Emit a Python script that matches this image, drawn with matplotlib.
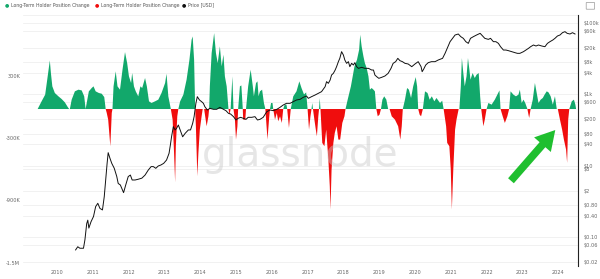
import numpy as np
import matplotlib
matplotlib.use("Agg")
import matplotlib.pyplot as plt
from matplotlib.transforms import blended_transform_factory, ScaledTranslation

# ---------------- data ----------------
lth_year = [
    2009.46, 2009.57, 2009.67, 2009.74, 2009.80, 2009.83, 2009.87, 2009.94, 2010.04, 2010.13,
    2010.22, 2010.30, 2010.34, 2010.36, 2010.41, 2010.50, 2010.60, 2010.69, 2010.76, 2010.80,
    2010.83, 2010.89, 2010.97, 2011.02, 2011.08, 2011.17, 2011.25, 2011.32, 2011.36, 2011.39,
    2011.43, 2011.49, 2011.53, 2011.55, 2011.58, 2011.64, 2011.69, 2011.76, 2011.83, 2011.90,
    2011.96, 2012.01, 2012.07, 2012.10, 2012.15, 2012.20, 2012.27, 2012.33, 2012.38, 2012.46,
    2012.51, 2012.57, 2012.64, 2012.74, 2012.83, 2012.92, 2013.02, 2013.06, 2013.11, 2013.18,
    2013.23, 2013.27, 2013.30, 2013.32, 2013.36, 2013.39, 2013.44, 2013.53, 2013.62, 2013.70,
    2013.76, 2013.79, 2013.83, 2013.86, 2013.88, 2013.92, 2013.95, 2013.99, 2014.04, 2014.07,
    2014.11, 2014.18, 2014.23, 2014.25, 2014.27, 2014.32, 2014.39, 2014.44, 2014.49, 2014.55,
    2014.60, 2014.65, 2014.69, 2014.74, 2014.79, 2014.82, 2014.85, 2014.90, 2014.93, 2014.97,
    2015.00, 2015.04, 2015.06, 2015.11, 2015.15, 2015.19, 2015.20, 2015.26, 2015.28, 2015.34,
    2015.41, 2015.47, 2015.50, 2015.56, 2015.60, 2015.63, 2015.67, 2015.73, 2015.78, 2015.82,
    2015.88, 2015.93, 2015.95, 2015.98, 2016.02, 2016.04, 2016.09, 2016.14, 2016.18, 2016.23,
    2016.28, 2016.32, 2016.36, 2016.41, 2016.43, 2016.48, 2016.53, 2016.60, 2016.69, 2016.77,
    2016.83, 2016.90, 2016.96, 2017.00, 2017.04, 2017.08, 2017.11, 2017.13, 2017.15, 2017.19,
    2017.23, 2017.26, 2017.30, 2017.32, 2017.34, 2017.36, 2017.41, 2017.47, 2017.52, 2017.58,
    2017.62, 2017.64, 2017.67, 2017.72, 2017.76, 2017.81, 2017.86, 2017.91, 2017.97, 2018.03,
    2018.06, 2018.12, 2018.21, 2018.31, 2018.38, 2018.44, 2018.47, 2018.51, 2018.56, 2018.60,
    2018.65, 2018.70, 2018.74, 2018.79, 2018.84, 2018.88, 2018.92, 2018.96, 2019.01, 2019.05,
    2019.09, 2019.14, 2019.20, 2019.25, 2019.29, 2019.35, 2019.44, 2019.53, 2019.59, 2019.63,
    2019.66, 2019.72, 2019.78, 2019.83, 2019.89, 2019.95, 2020.02, 2020.06, 2020.09, 2020.13,
    2020.17, 2020.22, 2020.28, 2020.35, 2020.41, 2020.47, 2020.54, 2020.60, 2020.70, 2020.76,
    2020.80, 2020.87, 2020.90, 2020.96, 2021.00, 2021.03, 2021.07, 2021.12, 2021.16, 2021.22,
    2021.24, 2021.28, 2021.31, 2021.35, 2021.39, 2021.44, 2021.48, 2021.52, 2021.55, 2021.61,
    2021.67, 2021.72, 2021.78, 2021.82, 2021.85, 2021.91, 2021.95, 2022.00, 2022.05, 2022.14,
    2022.23, 2022.30, 2022.36, 2022.39, 2022.45, 2022.51, 2022.58, 2022.63, 2022.67, 2022.75,
    2022.82, 2022.89, 2022.93, 2022.98, 2023.03, 2023.08, 2023.14, 2023.17, 2023.19, 2023.23,
    2023.29, 2023.35, 2023.40, 2023.45, 2023.51, 2023.57, 2023.62, 2023.68, 2023.73, 2023.79,
    2023.85, 2023.91, 2023.96, 2023.99, 2024.05, 2024.11, 2024.16, 2024.22, 2024.25, 2024.28,
    2024.31, 2024.38, 2024.44, 2024.48, 2024.50,
]
lth_change_k = [
    0, 74, 138, 314, 467, 346, 218, 154, 122, 96,
    64, 19, 0, 0, 90, 170, 186, 179, 122, 0,
    58, 170, 202, 218, 170, 154, 147, 115, 0, -38,
    -102, -358, -38, 0, 218, 362, 218, 186, 378, 547,
    442, 314, 250, 346, 218, 170, 122, 218, 202, 298,
    218, 74, 58, 74, 90, 154, 250, 339, 122, 0,
    -102, -422, -704, -358, -70, 0, 74, 138, 282, 474,
    666, 698, 474, 0, -166, -646, -422, -198, -70, 0,
    0, -166, -70, 0, 218, 538, 730, 538, 442, 602,
    410, 522, 314, 218, 0, -54, 0, 314, 0, -102,
    -294, -166, 0, 218, 227, 0, -102, -102, 0, 218,
    378, 218, 122, 250, 266, 122, 170, 186, 58, 0,
    -294, -70, 0, 58, 58, 0, -102, -38, -118, -70,
    -134, 0, 42, 42, 0, -182, 0, 122, 170, 266,
    202, 140, 160, 0, -198, -70, 0, 58, 0, -102,
    -198, -262, -70, 0, 106, 0, -326, -358, -198, -486,
    -742, -966, -582, -326, -230, -166, -294, -294, -134, -70,
    0, 90, 218, 410, 474, 570, 714, 602, 506, 442,
    394, 314, 186, 202, 186, 170, 0, -70, -54, 0,
    90, 122, 90, 0, 0, -70, -102, -166, -294, -166,
    0, 90, 202, 186, 106, 218, 307, 218, 0, -54,
    -70, 0, 170, 154, 90, 122, 74, 106, 58, 80,
    0, -166, -326, -358, -582, -966, -582, -198, -102, 0,
    0, 218, 490, 346, 218, 314, 490, 378, 282, 346,
    298, 330, 346, 122, 0, -166, -102, 0, 58, 42,
    90, 138, 179, 0, -70, -134, -70, 0, 170, 138,
    122, 138, 186, 58, 90, 58, 0, -54, -86, 0,
    90, 250, 154, 58, 90, 106, 138, 170, 160, 122,
    42, 122, 0, 0, -102, -198, -294, -390, -518, -102,
    0, 74, 90, 42, 0,
]

price_year = [
    2010.52, 2010.58, 2010.64, 2010.74, 2010.78, 2010.83, 2010.86, 2010.89, 2010.95, 2011.02,
    2011.08, 2011.14, 2011.20, 2011.27, 2011.32, 2011.36, 2011.40, 2011.43, 2011.48, 2011.53,
    2011.60, 2011.67, 2011.71, 2011.77, 2011.83, 2011.86, 2011.92, 2011.99, 2012.05, 2012.10,
    2012.18, 2012.27, 2012.37, 2012.46, 2012.55, 2012.63, 2012.69, 2012.76, 2012.83, 2012.90,
    2012.98, 2013.06, 2013.13, 2013.17, 2013.20, 2013.25, 2013.30, 2013.34, 2013.39, 2013.44,
    2013.51, 2013.58, 2013.67, 2013.73, 2013.79, 2013.83, 2013.88, 2013.92, 2013.98, 2014.04,
    2014.09, 2014.13, 2014.20, 2014.27, 2014.37, 2014.46, 2014.55, 2014.65, 2014.72, 2014.79,
    2014.85, 2014.93, 2015.00, 2015.06, 2015.13, 2015.20, 2015.28, 2015.34, 2015.44, 2015.53,
    2015.60, 2015.67, 2015.76, 2015.86, 2015.95, 2016.04, 2016.14, 2016.23, 2016.32, 2016.41,
    2016.51, 2016.60, 2016.69, 2016.79, 2016.88, 2016.97, 2017.02, 2017.11, 2017.21, 2017.30,
    2017.39, 2017.49, 2017.53, 2017.58, 2017.63, 2017.67, 2017.72, 2017.77, 2017.81, 2017.86,
    2017.90, 2017.95, 2018.00, 2018.04, 2018.09, 2018.14, 2018.18, 2018.23, 2018.28, 2018.32,
    2018.37, 2018.42, 2018.51, 2018.60, 2018.70, 2018.79, 2018.84, 2018.88, 2018.93, 2018.99,
    2019.07, 2019.16, 2019.25, 2019.33, 2019.39, 2019.46, 2019.52, 2019.58, 2019.65, 2019.72,
    2019.81, 2019.91, 2020.00, 2020.09, 2020.17, 2020.20, 2020.24, 2020.30, 2020.37, 2020.46,
    2020.56, 2020.65, 2020.77, 2020.84, 2020.90, 2020.98, 2021.05, 2021.12, 2021.21, 2021.28,
    2021.35, 2021.42, 2021.49, 2021.55, 2021.63, 2021.72, 2021.82, 2021.89, 2021.95, 2022.05,
    2022.11, 2022.19, 2022.26, 2022.33, 2022.39, 2022.47, 2022.54, 2022.61, 2022.70, 2022.79,
    2022.86, 2022.93, 2023.03, 2023.10, 2023.17, 2023.23, 2023.31, 2023.38, 2023.45, 2023.54,
    2023.63, 2023.70, 2023.77, 2023.85, 2023.91, 2023.98, 2024.05, 2024.12, 2024.19, 2024.25,
    2024.33, 2024.40, 2024.47,
]
price_usd = [
    0.044, 0.054, 0.049, 0.049, 0.084, 0.24, 0.30, 0.18, 0.27, 0.38,
    0.72, 0.89, 0.64, 0.58, 1.36, 4.0, 11.7, 23.3, 16.2, 11.7,
    8.5, 5.0, 3.2, 2.9, 2.1, 1.77, 2.9, 5.0, 5.5, 4.0,
    4.0, 4.2, 4.5, 5.5, 7.6, 9.5, 9.5, 8.5, 9.9, 10.5,
    11.7, 14.5, 22.3, 40, 65, 125, 101, 112, 139, 101,
    65, 81, 101, 101, 155, 238, 562, 863, 697, 625,
    562, 453, 366, 407, 382, 382, 434, 382, 350, 295,
    282, 238, 192, 214, 228, 214, 200, 228, 228, 238,
    192, 200, 228, 328, 366, 350, 382, 434, 505, 562,
    562, 625, 697, 728, 828, 902, 776, 863, 962, 1072,
    1194, 1648, 2275, 2043, 2532, 3494, 3890, 4820, 5980, 8260,
    10240, 15740, 12700, 9200, 7420, 8260, 5980, 7420, 6660, 7740,
    5980, 5370, 5730, 5370, 5370, 4820, 4820, 3494, 3140, 2820,
    3010, 3275, 3890, 5370, 7420, 8260, 10240, 8810, 8260, 7420,
    7110, 5980, 7110, 8260, 5980, 4330, 5040, 6660, 7740, 8260,
    8260, 9200, 10240, 14130, 19500, 30000, 37200, 46100, 49200, 41400,
    37200, 30000, 26900, 37200, 41400, 46100, 51400, 43300, 37200, 34800,
    37200, 30000, 30000, 26900, 21700, 17500, 17500, 16800, 15740, 14800,
    14130, 14130, 15740, 17500, 19500, 21700, 24200, 22700, 24200, 22700,
    21700, 26900, 30000, 33400, 37200, 43300, 46100, 53600, 57200, 51400,
    49200, 53600, 49200,
]

year_ticks = list(range(2010, 2025))
left_ticks = [300000, -300000, -900000, -1500000]
left_tick_labels = ["300K", "-300K", "-900K", "-1.5M"]
price_ticks = [100000, 60000, 20000, 8000, 4000, 1000, 600, 200, 80, 40, 10, 8, 2,
               0.8, 0.4, 0.1, 0.06, 0.02]
price_tick_labels = ["$100k", "$60k", "$20k", "$8k", "$4k", "$1k", "$600", "$200", "$80",
                     "$40", "$10", "$8", "$2", "$0.80", "$0.40", "$0.10", "$0.06", "$0.02"]

legend_labels = ["Long-Term Holder Position Change", "Long-Term Holder Position Change", "Price [USD]"]

# ---------------- style ----------------
GREEN = "#12a86b"
RED = "#f00d0d"
TICK_COLOR = "#666666"
FS = 3.6

fig = plt.figure(figsize=(6.0, 2.79), dpi=100)
ax = fig.add_axes([0.0383, 0.0466, 0.925, 0.8996])
ax2 = ax.twinx()

x = np.array(lth_year)
v = np.array(lth_change_k) * 1000.0
ax.fill_between(x, v, 0, where=v >= 0, interpolate=True, color=GREEN, lw=0, zorder=2)
ax.fill_between(x, v, 0, where=v <= 0, interpolate=True, color=RED, lw=0, zorder=2)

ax.set_xlim(2009.05, 2024.553)
ax.set_ylim(-1509600, 904000)
ax.set_yticks(left_ticks)
ax.set_yticklabels(left_tick_labels)
ax.set_xticks(year_ticks)
ax.set_xticklabels([str(y) for y in year_ticks])
ax.tick_params(axis="both", length=0, labelsize=FS, colors=TICK_COLOR, pad=3)
ax.tick_params(axis="y", pad=2)
for s in ax.spines.values():
    s.set_visible(False)
# reference labels sit slightly above their tick positions
shift = ScaledTranslation(0, 2.2 / 100.0, fig.dpi_scale_trans)
for lab in ax.get_yticklabels():
    lab.set_transform(lab.get_transform() + shift)

ax2.plot(price_year, price_usd, color="#111111", lw=0.7, zorder=3)
ax2.set_yscale("log")
ax2.set_ylim(10 ** -1.807, 10 ** 5.224)
ax2.set_yticks(price_ticks)
ax2.set_yticklabels(price_tick_labels)
ax2.yaxis.set_minor_locator(matplotlib.ticker.NullLocator())
ax2.tick_params(axis="y", length=0, labelsize=FS, colors=TICK_COLOR, pad=4)
for name, s in ax2.spines.items():
    s.set_visible(name == "right")
ax2.spines["right"].set_color("#222222")
ax2.spines["right"].set_linewidth(0.8)
for lab in ax2.get_yticklabels():
    lab.set_horizontalalignment("left")

# horizontal gridlines at price ticks, drawn under the areas
btf = blended_transform_factory(ax.transAxes, ax2.transData)
for p in price_ticks:
    ax.plot([0, 1], [p, p], transform=btf, color="#ececec", lw=0.5, zorder=0)
ax.plot([0, 1], [1, 1], transform=ax.transAxes, color="#ececec", lw=0.5, zorder=0)

# watermark
ax.text(0.5, 0.445, "glassnode", transform=fig.transFigure, ha="center", va="center",
        fontsize=28, color="#c8c8c8", alpha=0.45, zorder=5, fontweight="normal")

# green arrow annotation
ax.annotate("", xy=(2023.97, -182000), xytext=(2022.63, -710000),
            arrowprops=dict(arrowstyle="simple,head_width=1.6,head_length=1.4,tail_width=0.55",
                            color="#1fbf2f", lw=0), zorder=6)

# legend
ly = 0.982
items = [(0.012, GREEN, legend_labels[0]), (0.162, RED, legend_labels[1]), (0.306, "#111111", legend_labels[2])]
for lx, c, t in items:
    fig.text(lx, ly, "\u25cf", color=c, fontsize=3.6, ha="center", va="center")
    fig.text(lx + 0.007, ly, t, color="#555555", fontsize=3.3, ha="left", va="center")

# camera icon placeholder (small outline)
fig.patches.append(matplotlib.patches.FancyBboxPatch((0.978, 0.968), 0.012, 0.022,
                   boxstyle="round,pad=0.001", transform=fig.transFigure,
                   fill=False, ec="#999999", lw=0.5))

fig.savefig("out.png", dpi=100)
